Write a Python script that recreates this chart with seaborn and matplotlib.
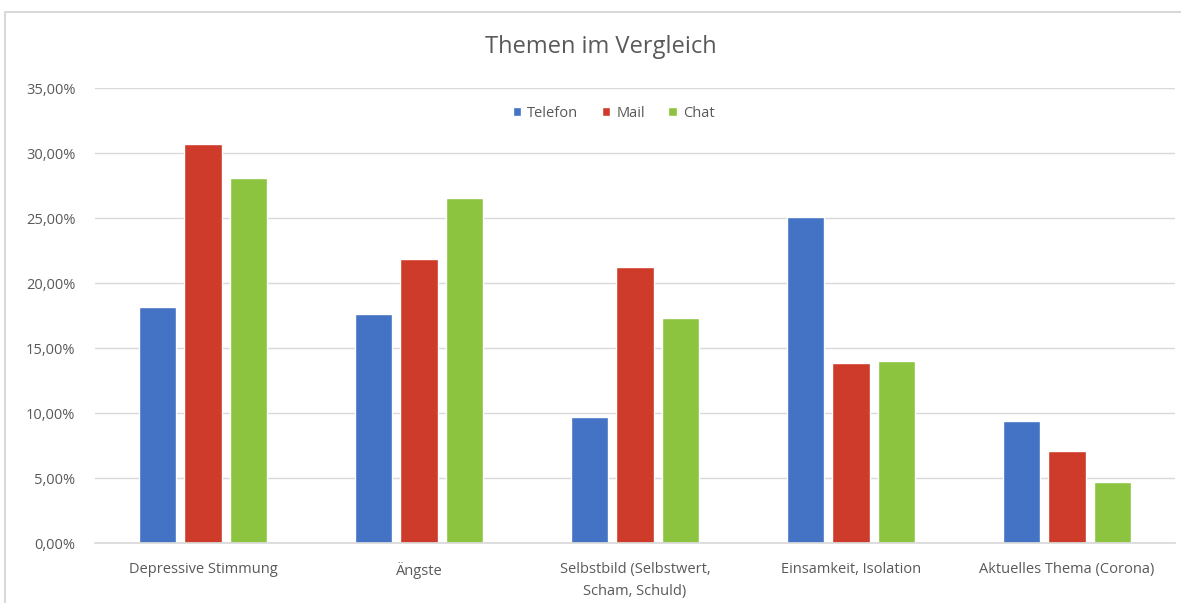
import matplotlib
matplotlib.use("Agg")
import matplotlib.pyplot as plt
import seaborn as sns
import pandas as pd
from matplotlib.ticker import FuncFormatter
from matplotlib.patches import Rectangle

categories = ["Depressive Stimmung", "Ängste", "Selbstbild (Selbstwert,\nScham, Schuld)",
              "Einsamkeit, Isolation", "Aktuelles Thema (Corona)"]
series = ["Telefon", "Mail", "Chat"]
telefon = [18.14, 17.6, 9.66, 25.07, 9.37]
mail = [30.7, 21.83, 21.26, 13.82, 7.06]
chat = [28.07, 26.53, 17.29, 14.02, 4.7]
yticks = [0, 5, 10, 15, 20, 25, 30, 35]
colors = ["#4472C4", "#CE3B2A", "#8CC43F"]

rows = []
for name, vals in zip(series, [telefon, mail, chat]):
    for c, v in zip(categories, vals):
        rows.append({"Thema": c, "Kanal": name, "Wert": v})
df = pd.DataFrame(rows)

sns.set_theme(style="white")
plt.rcParams['font.family'] = ['Open Sans', 'DejaVu Sans']

fig = plt.figure(figsize=(11.81, 6.03), dpi=100)
ax = fig.add_axes([0.0804, 0.0995, 0.9146, 0.7545])

sns.barplot(data=df, x="Thema", y="Wert", hue="Kanal", palette=colors,
            width=0.63, gap=0.18, ax=ax, saturation=1, legend=True)

ax.set_ylim(0, 35)
ax.set_yticks(yticks)
ax.yaxis.set_major_formatter(FuncFormatter(lambda v, p: f"{v:.2f}%".replace(".", ",")))
ax.yaxis.grid(True, color="#D9D9D9", linewidth=1)
ax.set_axisbelow(True)
for s in ["top", "right", "left"]:
    ax.spines[s].set_visible(False)
ax.spines["bottom"].set_color("#D9D9D9")
ax.tick_params(axis="both", length=0, labelsize=10.5, colors="#595959")
ax.tick_params(axis="x", pad=14)
ax.tick_params(axis="y", pad=14)
for lbl in ax.get_xticklabels():
    lbl.set_linespacing(1.6)
ax.set_xlabel("")
ax.set_ylabel("")
ax.set_xlim(-0.5, 4.5)

leg = ax.legend(loc="upper center", bbox_to_anchor=(0.48, 0.99), ncol=3, frameon=False,
                fontsize=10.5, handlelength=0.6, handleheight=0.6, columnspacing=1.6,
                handletextpad=0.4)
for t in leg.get_texts():
    t.set_color("#595959")

fig.text(0.509, 0.922, "Themen im Vergleich", ha="center", va="center",
         fontsize=17, color="#595959")

fig.patches.append(Rectangle((5 / 1181, -0.01), 1.0, 1 - 12 / 603 + 0.01,
                             transform=fig.transFigure, fill=False,
                             edgecolor="#D9D9D9", linewidth=1.5))

fig.savefig("out.png", dpi=100)
